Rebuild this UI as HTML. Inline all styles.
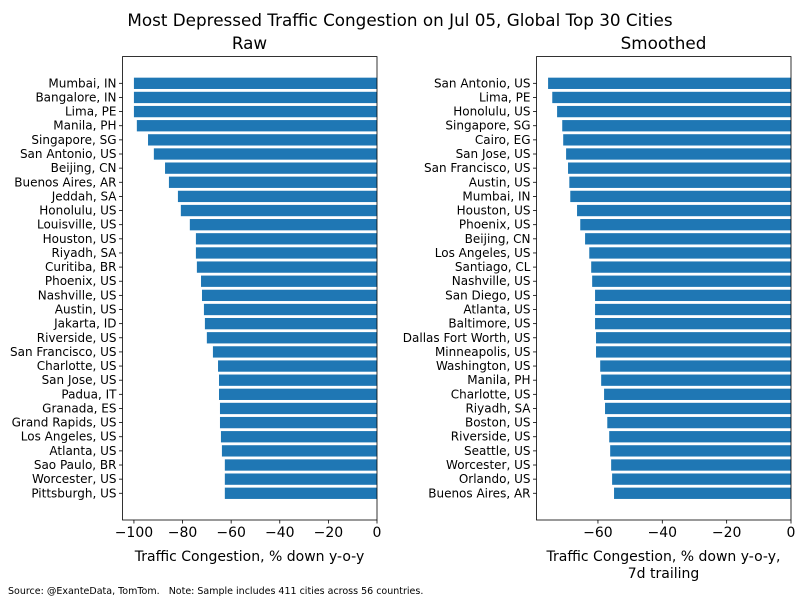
<!DOCTYPE html>
<html><head><meta charset="utf-8"><style>
body{margin:0;background:#fff}
svg text{font-family:"DejaVu Sans","Liberation Sans",sans-serif;fill:#000}
</style></head><body>
<svg id="c" width="800" height="600" xmlns="http://www.w3.org/2000/svg">
<text x="400" y="26" font-size="16.8" text-anchor="middle">Most Depressed Traffic Congestion on Jul 05, Global Top 30 Cities</text>
<text x="249.5" y="49" font-size="16.8" text-anchor="middle">Raw</text>
<text x="663.5" y="49" font-size="16.8" text-anchor="middle">Smoothed</text>
<text x="249.5" y="561" font-size="14" text-anchor="middle">Traffic Congestion, % down y-o-y</text>
<text x="663.5" y="561" font-size="14" text-anchor="middle">Traffic Congestion, % down y-o-y,</text>
<text x="663.5" y="578" font-size="14" text-anchor="middle">7d trailing</text>
<text x="8" y="594" font-size="9.5" style="white-space:pre">Source: @ExanteData, TomTom.   Note: Sample includes 411 cities across 56 countries.</text>
<g id="p1"></g><g id="p2"></g>
</svg>
<script>
const rawCities=["Mumbai, IN","Bangalore, IN","Lima, PE","Manila, PH","Singapore, SG","San Antonio, US","Beijing, CN","Buenos Aires, AR","Jeddah, SA","Honolulu, US","Louisville, US","Houston, US","Riyadh, SA","Curitiba, BR","Phoenix, US","Nashville, US","Austin, US","Jakarta, ID","Riverside, US","San Francisco, US","Charlotte, US","San Jose, US","Padua, IT","Granada, ES","Grand Rapids, US","Los Angeles, US","Atlanta, US","Sao Paulo, BR","Worcester, US","Pittsburgh, US"];
const rawValues=[-100,-100,-100,-98.8,-94.2,-91.8,-87.2,-85.6,-81.9,-80.7,-77,-74.5,-74.5,-74.1,-72.4,-72,-71.2,-70.8,-70,-67.5,-65.4,-65,-65,-64.6,-64.6,-64.2,-63.8,-62.6,-62.6,-62.6];
const rawTicks=[-100,-80,-60,-40,-20,0];
const smCities=["San Antonio, US","Lima, PE","Honolulu, US","Singapore, SG","Cairo, EG","San Jose, US","San Francisco, US","Austin, US","Mumbai, IN","Houston, US","Phoenix, US","Beijing, CN","Los Angeles, US","Santiago, CL","Nashville, US","San Diego, US","Atlanta, US","Baltimore, US","Dallas Fort Worth, US","Minneapolis, US","Washington, US","Manila, PH","Charlotte, US","Riyadh, SA","Boston, US","Riverside, US","Seattle, US","Worcester, US","Orlando, US","Buenos Aires, AR"];
const smValues=[-75.5,-74.2,-72.7,-71.1,-70.8,-69.9,-69.3,-68.9,-68.6,-66.5,-65.5,-64,-62.7,-62.1,-61.8,-60.9,-60.9,-60.9,-60.6,-60.6,-59.3,-59,-58.1,-57.8,-57.1,-56.5,-56.2,-55.9,-55.6,-55];
const smTicks=[-60,-40,-20,0];
const NS="http://www.w3.org/2000/svg";
function mk(g,t,a){const e=document.createElementNS(NS,t);for(const k in a)e.setAttribute(k,a[k]);g.appendChild(e);return e;}
function panel(gid,cities,vals,ticks,x0,x1,xmin,prefix){
 const g=document.getElementById(gid);
 const top=56.6,bot=520,n=cities.length;
 const step=(bot-top)/(n-1+0.8+2*0.05*(n-1+0.8));
 const margin=0.05*(n-1+0.8)+0.4;
 const y=i=>top+(margin+i)*step;
 const x=v=>x0+(v-xmin)/(0-xmin)*(x1-x0);
 cities.forEach((c,i)=>{
  const v=vals[i];
  const r=mk(g,'rect',{x:x(v),y:y(i)-0.4*step,width:x(0)-x(v),height:0.8*step,fill:'#1f77b4'});
  
  
  mk(g,'line',{x1:x0-3.5,x2:x0,y1:y(i),y2:y(i),stroke:'#000','stroke-width':0.8});
  const t=mk(g,'text',{x:x0-6,y:y(i)+4,'font-size':12,'text-anchor':'end'});
  t.textContent=c;
  
  
 });
 ticks.forEach(v=>{
  mk(g,'line',{x1:x(v),x2:x(v),y1:bot,y2:bot+3.5,stroke:'#000','stroke-width':0.8});
  const t=mk(g,'text',{x:x(v),y:bot+17,'font-size':14,'text-anchor':'middle'});
  t.textContent=v<0?'\u2212'+(-v):String(v);
  
  
 });
 const f=mk(g,'rect',{x:x0,y:top,width:x1-x0,height:bot-top,fill:'none',stroke:'#000','stroke-width':0.8});
 
 
}
panel('p1',rawCities,rawValues,rawTicks,122.5,377,-104.7,'raw');
panel('p2',smCities,smValues,smTicks,536.5,791,-79.1,'smoothed');
</script>
</body></html>
